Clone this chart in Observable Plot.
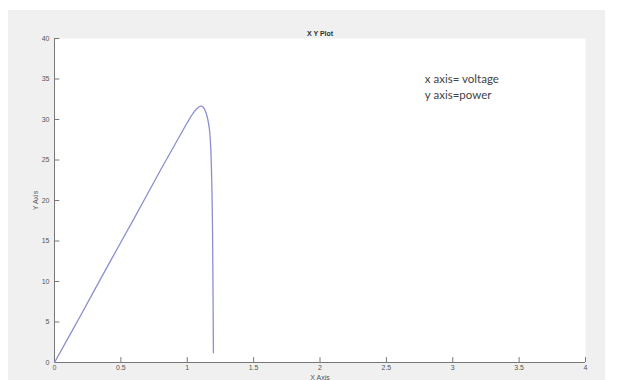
<!DOCTYPE html>
<html>
<head>
<meta charset="utf-8">
<script src="https://cdn.jsdelivr.net/npm/d3@7"></script>
<script src="https://cdn.jsdelivr.net/npm/@observablehq/plot@0.6"></script>
<style>
  html, body { margin: 0; padding: 0; background: #ffffff; }
  #wrap { position: relative; width: 617px; height: 380px; overflow: hidden; }
  #bg { position: absolute; left: 8px; top: 10px; width: 597px; height: 370px; background: #f0f0f0; }
  #chart { position: absolute; left: 0; top: 0; }
</style>
</head>
<body>
<div id="wrap"><div id="bg"></div><div id="chart"></div></div>
<script>
// Data (voltage vs power)
const voltage = [0, 0.2, 0.4, 0.6, 0.8, 0.9, 1.0, 1.05, 1.08, 1.1, 1.12, 1.14, 1.155, 1.167, 1.177, 1.185, 1.19, 1.194, 1.197];
const power   = [0, 5.9, 11.9, 17.8, 23.8, 26.7, 29.6, 30.9, 31.45, 31.64, 31.5, 30.9, 30.0, 28.8, 26.5, 22.0, 17.0, 9.0, 1.2];

const xTicks = [0, 0.5, 1, 1.5, 2, 2.5, 3, 3.5, 4];
const yTicks = [0, 5, 10, 15, 20, 25, 30, 35, 40];

const titleText = "X Y Plot";
const xLabel = "X Axis";
const yLabel = "Y Axis";
const noteLines = ["x axis= voltage", "y axis=power"];
const noteX = [2.79, 2.79];
const noteY = [34.9, 33.0];

const data = voltage.map((v, i) => ({v, p: power[i]}));
const notes = noteLines.map((t, i) => ({t, x: noteX[i], y: noteY[i]}));

const axisColor = "#777777";
const fontFam = "'Liberation Sans', Arial, sans-serif";

const chart = Plot.plot({
  width: 617,
  height: 380,
  marginLeft: 54,
  marginRight: 32,
  marginTop: 38,
  marginBottom: 18,
  style: {background: "transparent", fontFamily: fontFam, fontSize: "7px", color: "#555"},
  x: {domain: [0, 4]},
  y: {domain: [0, 40]},
  marks: [
    Plot.frame({fill: "white", stroke: null}),
    Plot.ruleX(xTicks, {y1: 0, y2: 0.6, stroke: axisColor, strokeWidth: 1}),
    Plot.ruleY(yTicks, {x1: 0, x2: 0.04, stroke: axisColor, strokeWidth: 1}),
    Plot.ruleY([0], {stroke: axisColor, strokeWidth: 1}),
    Plot.ruleX([0], {stroke: axisColor, strokeWidth: 1}),
    Plot.axisX({ticks: xTicks, tickSize: 0, tickPadding: 3, tickFormat: d => String(d),
      label: xLabel, labelAnchor: "center", labelArrow: "none", labelOffset: 17.5, fill: "#555"}),
    Plot.axisY({ticks: yTicks, tickSize: 0, tickPadding: 5, tickFormat: d => String(d),
      label: yLabel, labelAnchor: "center", labelArrow: "none", labelOffset: 21, fill: "#555"}),
    Plot.line(data, {x: "v", y: "p", stroke: "#8b8fd0", strokeWidth: 1.3, curve: "catmull-rom"}),
    Plot.text([titleText], {frameAnchor: "top", dy: -7, fontWeight: "bold", fontSize: 7, fill: "#333"}),
    Plot.text(notes, {x: "x", y: "y", text: "t", textAnchor: "start", fontSize: 11.5,
      fontFamily: "Lato, 'Open Sans', sans-serif", fill: "#444"})
  ]
});
document.getElementById("chart").appendChild(chart);
</script>
</body>
</html>
